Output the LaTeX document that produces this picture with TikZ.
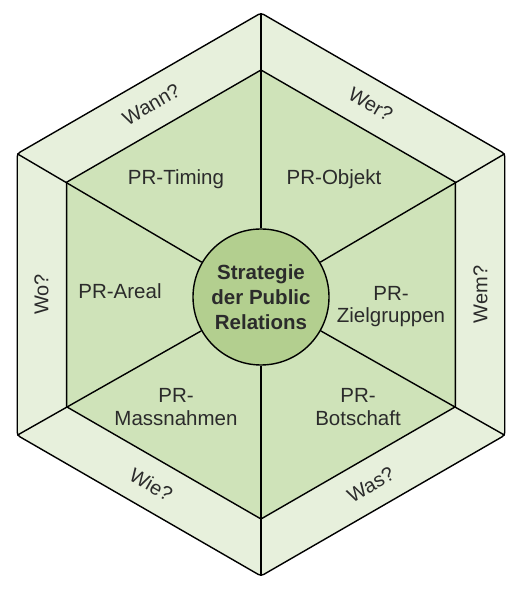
\documentclass[tikz,border=0pt]{standalone}
\usepackage{fontspec}
\setmainfont{Liberation Sans}
\usetikzlibrary{calc}
\definecolor{band}{HTML}{E7F0DC}
\definecolor{sector}{HTML}{CFE3B9}
\definecolor{hubfill}{HTML}{B3CF8F}
\definecolor{ink}{HTML}{2B2B2B}
\begin{document}
\begin{tikzpicture}[x=1pt,y=1pt,
  edge/.style={line width=1.4pt, line join=round, draw=black},
  sectorlbl/.style={font=\fontsize{20.5}{22.5}\selectfont, text=ink, align=center, inner sep=0pt},
  bandlbl/.style={font=\fontsize{20}{22}\selectfont, text=ink, inner sep=0pt},
  hublbl/.style={font=\bfseries\fontsize{20.5}{25}\selectfont, text=ink, align=center}]
\useasboundingbox (0,0) rectangle (528,599);
\fill[white] (0,0) rectangle (528,599);
\coordinate (C) at (261,304.5);
\foreach \a/\n in {90/1,150/2,210/3,270/4,330/5,30/6}{
  \coordinate (O\n) at ($(C)+(\a:281.5)$);
  \coordinate (I\n) at ($(C)+(\a:224.5)$);
}
% outer band
\fill[band, rounded corners=3pt] (O1)--(O2)--(O3)--(O4)--(O5)--(O6)--cycle;
% inner hexagon
\fill[sector] (I1)--(I2)--(I3)--(I4)--(I5)--(I6)--cycle;
% hub
\node[circle, minimum size=136pt, inner sep=0pt, fill=hubfill, edge, hublbl] (hub) at (261,302) {Strategie\\der Public\\Relations};
% rays
\foreach \n in {1,...,6}{
  \draw[edge] (hub) -- (O\n);
}
\draw[edge] (I1)--(I2)--(I3)--(I4)--(I5)--(I6)--cycle;
\draw[edge, rounded corners=3pt] (O1)--(O2)--(O3)--(O4)--(O5)--(O6)--cycle;
% band labels
\node[bandlbl, rotate=30]  (wann) at ($(C)+(120:219.5)$) {Wann?};
\node[bandlbl, rotate=-30] (wer)  at ($(C)+(60:219.5)$)  {Wer?};
\node[bandlbl, rotate=90]  (wo)   at ($(C)+(180:219.5)$) {Wo?};
\node[bandlbl, rotate=90]  (wem)  at ($(C)+(0:219.5)$)   {Wem?};
\node[bandlbl, rotate=-30] (wie)  at ($(C)+(240:219.5)$) {Wie?};
\node[bandlbl, rotate=30]  (was)  at ($(C)+(300:219.5)$) {Was?};
% sector labels
\node[sectorlbl, anchor=base] (timing) at (176,414) {PR-Timing};
\node[sectorlbl, anchor=base] (objekt) at (334,414) {PR-Objekt};
\node[sectorlbl, anchor=base] (areal)  at (120,300) {PR-Areal};
\node[sectorlbl] (ziel) at (391,292.5) {PR-\\Zielgruppen};
\node[sectorlbl] (mass) at (176,192) {PR-\\Massnahmen};
\node[sectorlbl] (bot)  at (358,192) {PR-\\Botschaft};
\end{tikzpicture}
\end{document}
